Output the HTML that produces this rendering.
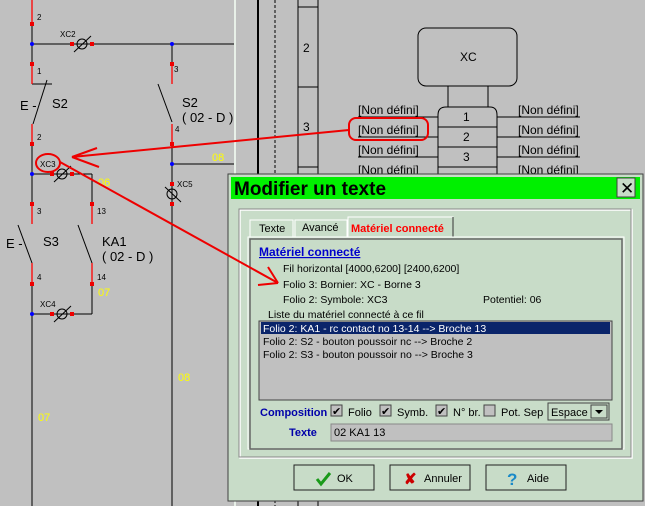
<!DOCTYPE html>
<html><head><meta charset="utf-8"><style>
body{margin:0;width:645px;height:506px;overflow:hidden;background:#c0c0c0;font-family:"Liberation Sans",sans-serif}
svg{position:absolute;left:0;top:0}
</style></head><body>
<svg width="645" height="506" viewBox="0 0 645 506" font-family="Liberation Sans, sans-serif">
<rect width="645" height="506" fill="#c0c0c0"/>
<g stroke="#000" stroke-width="1" fill="none">
<line x1="32" y1="44" x2="236" y2="44"/>
<line x1="32" y1="174" x2="92" y2="174"/><line x1="92" y1="174" x2="92" y2="204"/>
<line x1="32" y1="144" x2="32" y2="204"/>
<line x1="172" y1="44" x2="172" y2="64"/>
<line x1="172" y1="144" x2="172" y2="506"/>
<line x1="172" y1="164" x2="236" y2="164"/>
<line x1="32" y1="84" x2="52" y2="84"/>
<line x1="47" y1="80" x2="33" y2="124"/>
<line x1="158" y1="84" x2="172" y2="122"/>
<line x1="18" y1="225" x2="32" y2="263"/>
<line x1="78" y1="225" x2="92" y2="263"/>
<line x1="32" y1="284" x2="32" y2="506"/>
<line x1="32" y1="314" x2="92" y2="314"/><line x1="92" y1="314" x2="92" y2="284"/>
<line x1="32" y1="24" x2="32" y2="64"/>
<circle cx="82" cy="44" r="5"/><line x1="74" y1="52" x2="91" y2="36"/>
<circle cx="62" cy="174" r="5"/><line x1="54" y1="182" x2="71" y2="166"/>
<circle cx="62" cy="314" r="5"/><line x1="54" y1="322" x2="71" y2="306"/>
<circle cx="172" cy="194" r="5"/><line x1="165" y1="187" x2="181" y2="202"/>
</g>
<g stroke="#f00" stroke-width="1.3">
<line x1="32" y1="0" x2="32" y2="24"/><line x1="32" y1="64" x2="32" y2="84"/>
<line x1="32" y1="124" x2="32" y2="144"/><line x1="32" y1="204" x2="32" y2="224"/>
<line x1="92" y1="204" x2="92" y2="224"/><line x1="172" y1="64" x2="172" y2="84"/>
<line x1="172" y1="124" x2="172" y2="144"/>
<line x1="32" y1="263" x2="32" y2="284"/><line x1="92" y1="263" x2="92" y2="284"/>
</g>
<g fill="#e00">
<rect x="30" y="22" width="4" height="4"/><rect x="30" y="62" width="4" height="4"/>
<rect x="30" y="142" width="4" height="4"/><rect x="30" y="202" width="4" height="4"/>
<rect x="90" y="202" width="4" height="4"/><rect x="170" y="62" width="4" height="4"/>
<rect x="170" y="142" width="4" height="4"/><rect x="170" y="182" width="4" height="4"/><rect x="170" y="202" width="4" height="4"/>
<rect x="70" y="42" width="4" height="4"/><rect x="90" y="42" width="4" height="4"/>
<rect x="50" y="172" width="4" height="4"/><rect x="70" y="172" width="4" height="4"/>
<rect x="50" y="312" width="4" height="4"/><rect x="70" y="312" width="4" height="4"/>
<rect x="30" y="282" width="4" height="4"/><rect x="90" y="282" width="4" height="4"/>
</g>
<g fill="#00f"><circle cx="32" cy="44" r="2"/><circle cx="172" cy="44" r="2"/><circle cx="32" cy="174" r="2"/><circle cx="172" cy="164" r="2"/><circle cx="32" cy="314" r="2"/></g>
<g font-size="8" fill="#000">
<text x="37" y="20">2</text><text x="60" y="37">XC2</text><text x="37" y="74">1</text><text x="174" y="72">3</text>
<text x="37" y="140">2</text><text x="175" y="132">4</text><text x="40" y="167">XC3</text><text x="177" y="187">XC5</text>
<text x="37" y="214">3</text><text x="97" y="214">13</text><text x="37" y="280">4</text><text x="97" y="280">14</text><text x="40" y="307">XC4</text>
</g>
<g font-size="13" fill="#000">
<text x="20" y="110">E -</text><text x="52" y="108">S2</text><text x="182" y="107">S2</text><text x="182" y="122">( 02 - D )</text>
<text x="6" y="248">E -</text><text x="43" y="246">S3</text><text x="102" y="246">KA1</text><text x="102" y="261">( 02 - D )</text>
</g>
<g font-size="11" fill="#ff0">
<text x="212" y="161">08</text><text x="98" y="186">06</text><text x="98" y="296">07</text><text x="38" y="421">07</text><text x="178" y="381">08</text>
</g>
<line x1="235" y1="0" x2="235" y2="506" stroke="#e8f0e8" stroke-width="2"/>
<line x1="258" y1="0" x2="258" y2="506" stroke="#000" stroke-width="2"/>
<line x1="275" y1="0" x2="275" y2="506" stroke="#000" stroke-dasharray="3,2"/>
<g stroke="#000" fill="none">
<line x1="298" y1="0" x2="298" y2="506"/><line x1="318" y1="0" x2="318" y2="506"/>
<line x1="298" y1="7" x2="318" y2="7"/><line x1="298" y1="87" x2="318" y2="87"/><line x1="298" y1="167" x2="318" y2="167"/>
<rect x="418" y="28" width="99" height="58" rx="8"/>
<line x1="448" y1="86" x2="448" y2="107"/><line x1="488" y1="86" x2="488" y2="107"/>
<path d="M438,180 V115 Q438,107 446,107 H490 Q497,107 497,115 V180"/>
<line x1="438" y1="127" x2="497" y2="127"/><line x1="438" y1="147" x2="497" y2="147"/><line x1="438" y1="167" x2="497" y2="167"/>
<line x1="358" y1="117" x2="438" y2="117"/><line x1="358" y1="137" x2="438" y2="137"/><line x1="358" y1="157" x2="438" y2="157"/>
<line x1="497" y1="117" x2="580" y2="117"/><line x1="497" y1="137" x2="580" y2="137"/><line x1="497" y1="157" x2="580" y2="157"/>
</g>
<g font-size="12" fill="#000">
<text x="303" y="52">2</text><text x="303" y="131">3</text>
<text x="460" y="61">XC</text><text x="463" y="121">1</text><text x="463" y="141">2</text><text x="463" y="161">3</text>
<text x="358" y="114">[Non défini]</text><text x="358" y="134">[Non défini]</text><text x="358" y="154">[Non défini]</text><text x="358" y="174">[Non défini]</text>
<text x="518" y="114">[Non défini]</text><text x="518" y="134">[Non défini]</text><text x="518" y="154">[Non défini]</text><text x="518" y="174">[Non défini]</text>
</g>
<g stroke="#e00" stroke-width="2" fill="none">
<rect x="349" y="118" width="79" height="22" rx="7"/>
<ellipse cx="48" cy="163" rx="12" ry="9"/>
<line x1="349" y1="130" x2="72" y2="157"/>
<line x1="72" y1="157" x2="97" y2="148"/><line x1="72" y1="157" x2="99" y2="167"/>
</g>
<rect x="228" y="174" width="415" height="327" fill="#c8dcc8" stroke="#404040"/>
<rect x="231" y="177" width="409" height="22" fill="#00f000"/>
<text x="234" y="195" font-size="19" font-weight="bold" fill="#000">Modifier un texte</text>
<rect x="617" y="178" width="18" height="19" fill="#c8dcc8" stroke="#404040"/>
<text x="620" y="194" font-size="17" fill="#000">✕</text>
<rect x="240" y="210" width="392" height="248" fill="none" stroke="#fff" stroke-width="1.5"/>
<rect x="239" y="209" width="392" height="248" fill="none" stroke="#888"/>
<path d="M250,237 V220 H293 V237" fill="#c8dcc8" stroke="#fff"/>
<path d="M295,237 V220 H347 V237" fill="#c8dcc8" stroke="#fff"/>
<path d="M348,237 V217 H453 V237" fill="#c8dcc8" stroke="#fff"/><line x1="453" y1="217" x2="453" y2="237" stroke="#333"/>
<rect x="248" y="237" width="376" height="212" fill="none" stroke="#fff"/>
<rect x="250" y="239" width="372" height="210" fill="none" stroke="#666" stroke-width="1.5"/>
<text x="259" y="232" font-size="11">Texte</text><text x="302" y="231" font-size="11">Avancé</text>
<text x="351" y="232" font-size="11" font-weight="bold" fill="#f00">Matériel connecté</text>
<text x="259" y="256" font-size="12" font-weight="bold" fill="#00c" text-decoration="underline">Matériel connecté</text>
<g font-size="10.5" fill="#000">
<text x="283" y="272">Fil horizontal [4000,6200] [2400,6200]</text>
<text x="283" y="288">Folio 3: Bornier: XC - Borne 3</text>
<text x="283" y="303">Folio 2: Symbole: XC3</text><text x="483" y="303">Potentiel: 06</text>
<text x="268" y="318">Liste du matériel connecté à ce fil</text>
</g>
<rect x="259" y="321" width="353" height="79" fill="#c0c0c0" stroke="#444"/>
<rect x="261" y="322" width="349" height="12" fill="#0a246a"/>
<g font-size="10.5"><text x="263" y="332" fill="#fff">Folio 2: KA1 - rc contact no 13-14 --&gt; Broche 13</text>
<text x="263" y="345">Folio 2: S2 - bouton poussoir nc --&gt; Broche 2</text>
<text x="263" y="358">Folio 2: S3 - bouton poussoir no --&gt; Broche 3</text></g>
<text x="260" y="416" font-size="11" font-weight="bold" fill="#00a">Composition</text>
<g fill="#c0c0c0" stroke="#444"><rect x="331" y="405" width="11" height="11"/><rect x="380" y="405" width="11" height="11"/><rect x="436" y="405" width="11" height="11"/><rect x="484" y="405" width="11" height="11"/></g>
<g font-size="11" fill="#000"><text x="332" y="415">✔</text><text x="381" y="415">✔</text><text x="437" y="415">✔</text>
<text x="348" y="416">Folio</text><text x="397" y="416">Symb.</text><text x="453" y="416">N° br.</text><text x="501" y="416">Pot. Sep</text></g>
<rect x="548" y="403" width="61" height="17" fill="#c8dcc8" stroke="#444"/><text x="551" y="416" font-size="11">Espace</text>
<rect x="591" y="405" width="16" height="13" fill="#c8dcc8" stroke="#444"/><path d="M595,410 h8 l-4,4z" fill="#000"/>
<text x="289" y="436" font-size="11" font-weight="bold" fill="#00a">Texte</text>
<rect x="331" y="424" width="281" height="17" fill="#c0c0c0" stroke="#888"/><text x="334" y="436" font-size="11">02 KA1 13</text>
<g fill="#c8dcc8" stroke="#222"><rect x="294" y="465" width="80" height="25"/><rect x="390" y="465" width="80" height="25"/><rect x="486" y="465" width="80" height="25"/></g>
<path d="M317,479 l4,5 l9,-11" stroke="#1a9a1a" stroke-width="3" fill="none"/>
<text x="337" y="482" font-size="11">OK</text>
<text x="404" y="484" font-size="15" font-weight="bold" fill="#c00">✘</text><text x="424" y="482" font-size="11">Annuler</text>
<text x="507" y="485" font-size="17" font-weight="bold" fill="#1a8ac8">?</text><text x="527" y="482" font-size="11">Aide</text>
<g stroke="#e00" stroke-width="2" fill="none">
<line x1="60" y1="162" x2="278" y2="283"/>
<line x1="268" y1="267" x2="278" y2="283"/><line x1="258" y1="285" x2="278" y2="283"/>
</g>
</svg>
</body></html>
